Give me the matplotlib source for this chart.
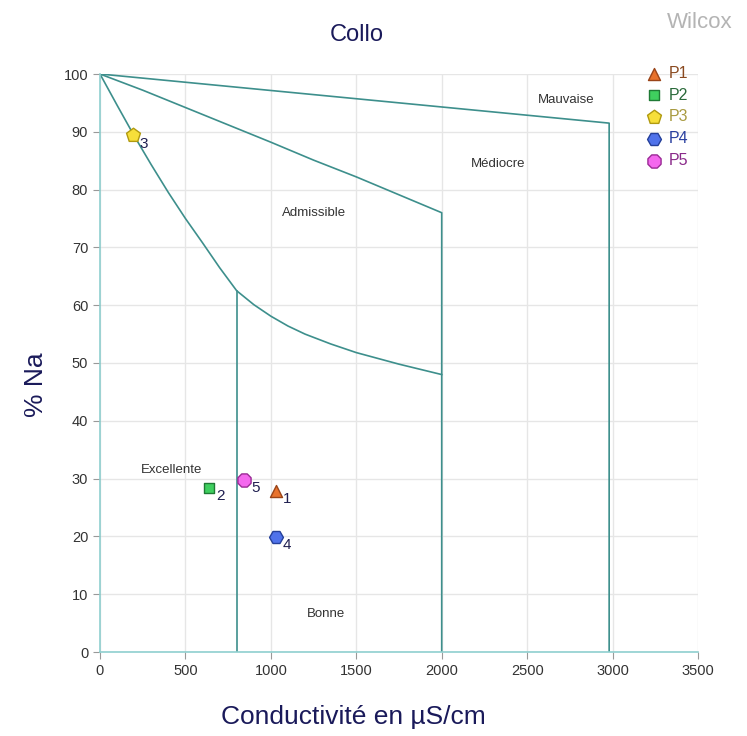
import matplotlib
matplotlib.use('Agg')
import matplotlib.pyplot as plt

plt.rcParams['font.family'] = ['Liberation Sans', 'DejaVu Sans']

# boundary curves of the Wilcox diagram
mauvaise_x = [0, 2980, 2980]
mauvaise_y = [100, 91.5, 0]
mediocre_x = [0, 250, 500, 750, 1000, 1250, 1500, 1750, 2000, 2000]
mediocre_y = [100, 97.2, 94.2, 91.2, 88.2, 85.1, 82.2, 79.1, 76, 0]
admis_x = [0, 100, 200, 300, 400, 500, 600, 700, 800, 900, 1000, 1100,
           1200, 1350, 1500, 1750, 2000]
admis_y = [100, 94.6, 89.3, 84.3, 79.5, 75, 70.8, 66.5, 62.5, 60.1, 58.1,
           56.4, 55, 53.3, 51.8, 49.8, 48]
excel_x = [800, 800]
excel_y = [62.5, 0]

# sample points
names = ['P1', 'P2', 'P3', 'P4', 'P5']
cond = [1030, 638, 193, 1030, 843]
na = [27.9, 28.4, 89.4, 19.9, 29.8]
markers = ['^', 's', 'p', 'H', '8']
sizes = [75, 50, 110, 100, 105]
faces = ['#e8722c', '#3fcf5f', '#f7df3a', '#4f72ea', '#f468ee']
edges = ['#9a4418', '#1f7a35', '#b09a10', '#25409a', '#9a2a95']
txtcol = ['#8a4a20', '#2a6a3a', '#a89a40', '#2a40a0', '#8a2a8a']

zones = ['Mauvaise', 'Médiocre', 'Admissible', 'Excellente', 'Bonne']
zone_x = [2730, 2330, 1250, 420, 1320]
zone_y = [95.5, 84.5, 76, 31.5, 6.5]

fig = plt.figure(figsize=(7.47, 7.36), dpi=100)
ax = fig.add_axes([100 / 747, 1 - 652 / 736, 598 / 747, 578 / 736])

line_c = '#3d8f8c'
for xs, ys in [(mauvaise_x, mauvaise_y), (mediocre_x, mediocre_y),
               (admis_x, admis_y), (excel_x, excel_y)]:
    ax.plot(xs, ys, color=line_c, lw=1.2, zorder=2)

for i in range(len(names)):
    ax.scatter(cond[i], na[i], marker=markers[i], s=sizes[i], color=faces[i],
               edgecolor=edges[i], linewidth=1, zorder=4, label=names[i])
    ax.annotate(str(i + 1), (cond[i], na[i]), xytext=(5, -9),
                textcoords='offset points', fontsize=11, color='#1f1f50')

for z, zx, zy in zip(zones, zone_x, zone_y):
    ax.text(zx, zy, z, fontsize=9.5, color='#333333', ha='center', va='center')

ax.set_xlim(0, 3500)
ax.set_ylim(0, 100)
ax.set_xticks(range(0, 3501, 500))
ax.set_yticks(range(0, 101, 10))
ax.grid(True, color='#e6e6e6', lw=1)
ax.set_axisbelow(True)
for s in ['top', 'right']:
    ax.spines[s].set_visible(False)
for s in ['left', 'bottom']:
    ax.spines[s].set_color('#8fcfcf')
    ax.spines[s].set_linewidth(1.2)
ax.tick_params(colors='#999999', labelcolor='#333333', labelsize=10.5, length=5)

leg = ax.legend(loc='upper left', bbox_to_anchor=(0.9, 1.025), frameon=False,
                handletextpad=0.3, labelspacing=0.42, fontsize=11.5,
                handlelength=1.2, borderaxespad=0, scatterpoints=1)
for t, c in zip(leg.get_texts(), txtcol):
    t.set_color(c)

fig.text(357 / 747, 1 - 35 / 736, 'Collo', fontsize=17, color='#1a1a5a',
         ha='center', va='center')
fig.text(700 / 747, 1 - 22 / 736, 'Wilcox', fontsize=16, color='#b4b4b4',
         ha='center', va='center')
fig.text(353 / 747, 1 - 717 / 736, 'Conductivité en µS/cm', fontsize=19,
         color='#1a1a5a', ha='center', va='center')
fig.text(36 / 747, 1 - 385 / 736, '% Na', fontsize=19, color='#1a1a5a',
         ha='center', va='center', rotation=90)

fig.savefig('out.png', dpi=100)
